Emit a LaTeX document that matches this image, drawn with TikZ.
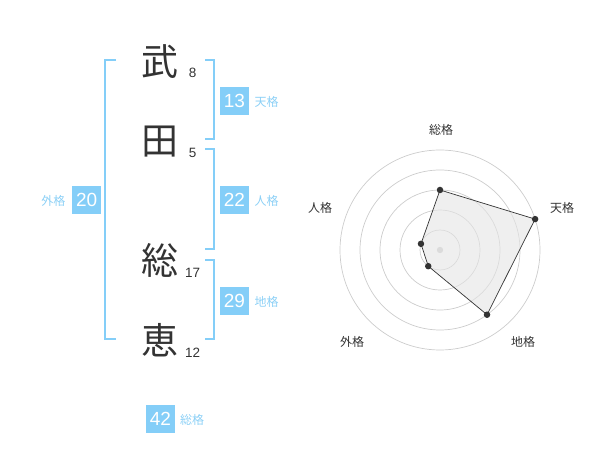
\documentclass[tikz,border=0pt]{standalone}
\usetikzlibrary{calc}
\usepackage{fontspec}
\setmainfont{Liberation Sans}
\newfontfamily\cjk{Noto Sans CJK JP}
\definecolor{bl}{RGB}{132,206,248}
\definecolor{bltxt}{RGB}{140,208,246}
\definecolor{dk}{RGB}{51,51,51}
\definecolor{ring}{RGB}{204,204,204}
\begin{document}
\begin{tikzpicture}[x=1pt,y=-1pt,
  kanji/.style={inner sep=0pt,text=dk,font=\cjk\fontsize{37}{37}\selectfont},
  strokes/.style={inner sep=0pt,text=dk,font=\fontsize{13.5}{13.5}\selectfont},
  bracket/.style={draw=bl,line width=2pt},
  valbox/.style={fill=bl,text=white,minimum width=29pt,minimum height=28pt,inner sep=0pt,font=\fontsize{19}{19}\selectfont},
  lbl/.style={inner sep=0pt,text=bltxt,font=\cjk\fontsize{12}{12}\selectfont},
  ax/.style={inner sep=0pt,text=dk,font=\cjk\fontsize{12}{12}\selectfont},
  dot/.style={circle,fill=dk,inner sep=0pt,minimum size=6.5pt}]
\useasboundingbox (0,0) rectangle (600,470);
% name characters
\node[kanji] (k1) at (160,61.7) {武};
\node[kanji] (k2) at (160,141.7) {田};
\node[kanji] (k3) at (160,260) {総};
\node[kanji] (k4) at (160,340) {恵};
\node[strokes] (s1) at (192.7,72.7) {8};
\node[strokes] (s2) at (192.7,152.7) {5};
\node[strokes] (s3) at (192.7,272.7) {17};
\node[strokes] (s4) at (192.7,353) {12};
% brackets
\draw[bracket] (116,60) -- (105,60) -- (105,339.3) -- (116,339.3);
\draw[bracket] (205,60) -- (214.3,60) -- (214.3,139.3) -- (205,139.3);
\draw[bracket] (205,149.3) -- (214.3,149.3) -- (214.3,249.3) -- (205,249.3);
\draw[bracket] (205,260) -- (214.3,260) -- (214.3,339.3) -- (205,339.3);
% value boxes
\node[valbox] (ten) at (234.5,100.7) {13};
\node[lbl,anchor=west] (tenl) at (254.3,101.5) {天格};
\node[valbox] (jin) at (234.5,200.3) {22};
\node[lbl,anchor=west] (jinl) at (254.3,201) {人格};
\node[valbox] (chi) at (234.5,300.7) {29};
\node[lbl,anchor=west] (chil) at (254.3,301.5) {地格};
\node[valbox] (gai) at (86.7,200.3) {20};
\node[lbl,anchor=east] (gail) at (65.5,201) {外格};
\node[valbox] (sou) at (160.5,419) {42};
\node[lbl,anchor=west] (soul) at (180,419.7) {総格};
% radar chart
\coordinate (c) at (440,250);
\foreach \r in {20,40,60,80,100} \draw[ring,line width=0.7pt] (c) circle (\r);
\fill[ring] (c) circle (3.2);
\coordinate (pS) at ($(c)+(-90:60)$);
\coordinate (pT) at ($(c)+(-18:100)$);
\coordinate (pC) at ($(c)+(54:80)$);
\coordinate (pG) at ($(c)+(126:20)$);
\coordinate (pJ) at ($(c)+(198:20)$);
\draw[fill=gray!20,fill opacity=0.6,draw=dk,line width=0.7pt] (pS) -- (pT) -- (pC) -- (pG) -- (pJ) -- cycle;
\foreach \p in {pS,pT,pC,pG,pJ} \node[dot] at (\p) {};
\node[ax] (aS) at (441,130) {総格};
\node[ax] (aT) at (562,208) {天格};
\node[ax] (aC) at (523,342) {地格};
\node[ax] (aG) at (352,342) {外格};
\node[ax] (aJ) at (320,208) {人格};
\end{tikzpicture}
\end{document}
